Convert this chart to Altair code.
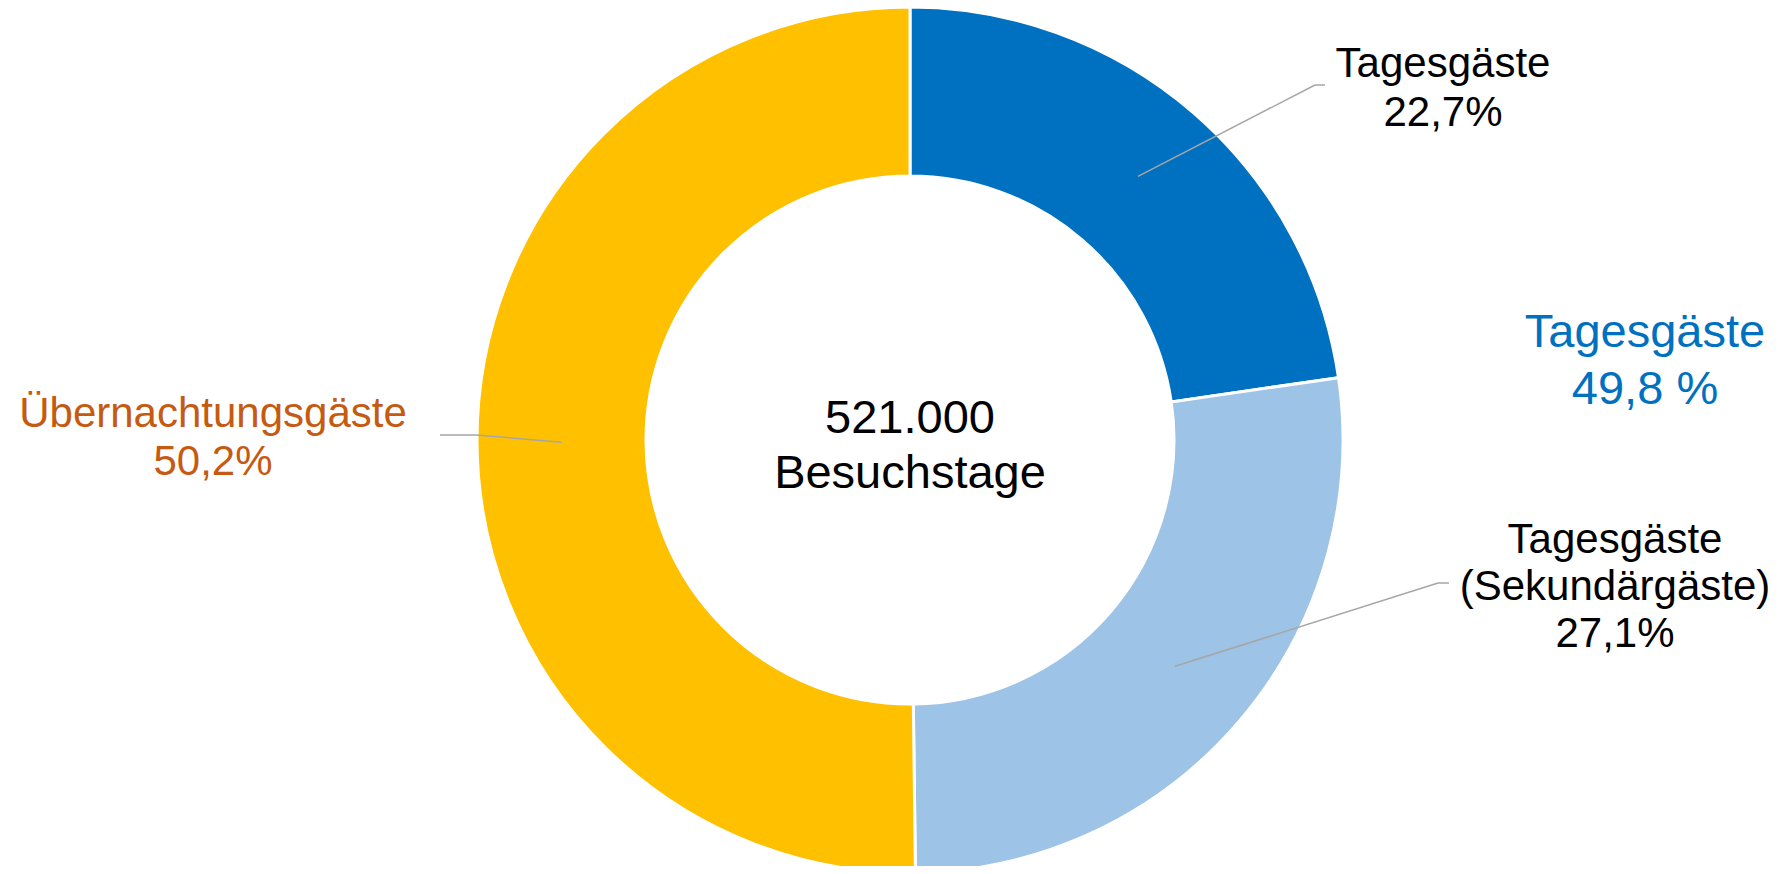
import altair as alt
import numpy as np
import pandas as pd

# ---- data ----
segments = ["Tagesgäste", "Tagesgäste (Sekundärgäste)", "Übernachtungsgäste"]
shares = [22.7, 27.1, 50.2]
seg_colors = ["#0070C0", "#9DC3E6", "#FFC000"]
seg_labels = ["Tagesgäste\n22,7%", "Tagesgäste\n(Sekundärgäste)\n27,1%", "Übernachtungsgäste\n50,2%"]
seg_label_colors = ["#000000", "#000000", "#C55A11"]
total_label = "521.000\nBesuchstage"
group_label = "Tagesgäste\n49,8 %"
group_color = "#0070C0"

# ---- layout ----
W, H = 1767, 858
OFF = 8
CX, CY = 910 - OFF, 440 - OFF
R_OUT, R_IN = 433, 264
R_MID = (R_OUT + R_IN) / 2
FONT = "Liberation Sans"

xs = alt.Scale(domain=[0, W], range=[0, W], nice=False, zero=False)
ys = alt.Scale(domain=[0, H], range=[0, H], nice=False, zero=False)

df = pd.DataFrame({"segment": segments, "share": shares, "order": [0, 1, 2]})

arcs = alt.Chart(df).mark_arc(
    innerRadius=R_IN, outerRadius=R_OUT, stroke="white", strokeWidth=3
).encode(
    theta=alt.Theta("share:Q", stack=True),
    color=alt.Color("segment:N", scale=alt.Scale(domain=segments, range=seg_colors), legend=None),
    order=alt.Order("order:Q"),
    x=alt.value(CX),
    y=alt.value(CY),
)

# leader lines: start at slice mid-angle, mid-radius
sh = np.array(shares)
cum = np.cumsum(sh)
mid = (cum - sh / 2) / sh.sum() * 2 * np.pi
sx = CX + R_MID * np.sin(mid)
sy = CY - R_MID * np.cos(mid)
elbow_x = np.array([1315, 1438, 476]) - OFF
elbow_y = np.array([85, 583, 435]) - OFF
end_x = np.array([1325, 1449, 440]) - OFF

seg_rows = []
for i in range(3):
    seg_rows.append({"x": sx[i], "y": sy[i], "x2": elbow_x[i], "y2": elbow_y[i]})
    seg_rows.append({"x": elbow_x[i], "y": elbow_y[i], "x2": end_x[i], "y2": elbow_y[i]})
lines_df = pd.DataFrame(seg_rows)

leaders = alt.Chart(lines_df).mark_rule(color="#A6A6A6", strokeWidth=1.5).encode(
    x=alt.X("x:Q", scale=xs, axis=None),
    y=alt.Y("y:Q", scale=ys, axis=None),
    x2="x2:Q",
    y2="y2:Q",
)


def text_layer(txt, color, x, y, size, lh):
    d = pd.DataFrame({"t": [txt], "x": [x - OFF], "y": [y - OFF]})
    return alt.Chart(d).mark_text(
        font=FONT, fontSize=size, color=color, lineBreak="\n", lineHeight=lh,
        align="center", baseline="alphabetic"
    ).encode(
        x=alt.X("x:Q", scale=xs, axis=None),
        y=alt.Y("y:Q", scale=ys, axis=None),
        text="t:N",
    )


labels = [
    text_layer(seg_labels[0], seg_label_colors[0], 1443, 77, 42, 49),
    text_layer(seg_labels[1], seg_label_colors[1], 1615, 553, 42, 47),
    text_layer(seg_labels[2], seg_label_colors[2], 213, 427, 42, 48),
    text_layer(total_label, "#000000", 910, 433, 47, 55),
    text_layer(group_label, group_color, 1645, 347, 47, 57),
]

chart = alt.layer(arcs, leaders, *labels).properties(
    width=W, height=H, padding=0, autosize="none"
).configure_view(stroke=None)

chart.save("out.html", embed_options={"renderer": "svg", "actions": False})
